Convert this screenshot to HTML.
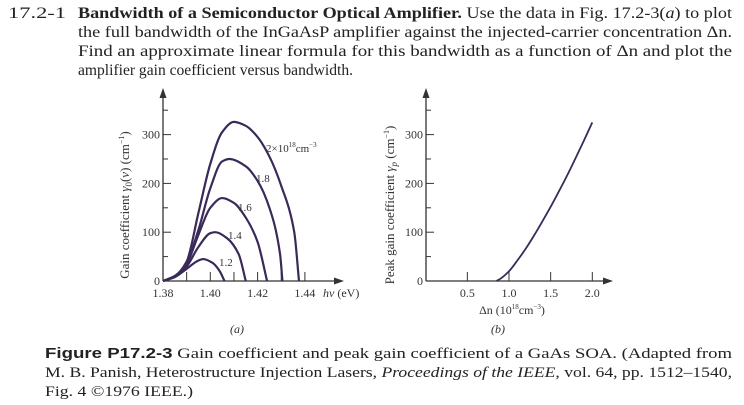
<!DOCTYPE html>
<html><head><meta charset="utf-8"><style>
html,body{margin:0;padding:0;background:#fff;}
svg{display:block;font-family:"Liberation Serif",serif;}
</style></head><body>
<svg id="s" width="744" height="405" viewBox="0 0 744 405">
<g font-size="16" fill="#222">
<text x="8" y="18" textLength="58" lengthAdjust="spacingAndGlyphs">17.2-1</text>
<text x="78" y="18" textLength="654" lengthAdjust="spacingAndGlyphs"><tspan font-weight="bold">Bandwidth of a Semiconductor Optical Amplifier.</tspan> Use the data in Fig. 17.2-3(<tspan font-style="italic">a</tspan>) to plot</text>
<text x="78" y="37" textLength="654" lengthAdjust="spacingAndGlyphs">the full bandwidth of the InGaAsP amplifier against the injected-carrier concentration Δn.</text>
<text x="78" y="56" textLength="654" lengthAdjust="spacingAndGlyphs">Find an approximate linear formula for this bandwidth as a function of Δn and plot the</text>
<text x="78" y="75" textLength="275" lengthAdjust="spacingAndGlyphs">amplifier gain coefficient versus bandwidth.</text>
</g>
<g id="ca"></g>
<g id="cb"></g>
<text x="237" y="333" font-size="12" font-style="italic" text-anchor="middle" fill="#333">(a)</text>
<text x="498" y="333" font-size="12" font-style="italic" text-anchor="middle" fill="#333">(b)</text>
<g font-size="15" fill="#222">
<text x="45" y="358" textLength="687" lengthAdjust="spacingAndGlyphs"><tspan font-family="Liberation Sans, sans-serif" font-weight="bold">Figure P17.2-3</tspan>  Gain coefficient and peak gain coefficient of a GaAs SOA. (Adapted from</text>
<text x="45" y="377" textLength="687" lengthAdjust="spacingAndGlyphs">M. B. Panish, Heterostructure Injection Lasers, <tspan font-style="italic">Proceedings of the IEEE</tspan>, vol. 64, pp. 1512–1540,</text>
<text x="45" y="396" textLength="148" lengthAdjust="spacingAndGlyphs">Fig. 4 ©1976 IEEE.)</text>
</g>
</svg>
<script>
// Chart (a) data
const aSeriesLabels = ["1.2","1.4","1.6","1.8","2"];
const aX12 = [1.38,1.385,1.39,1.395,1.397,1.401,1.404,1.406];
const aY12 = [0,8,25,42,45,37,20,0];
const aX14 = [1.38,1.385,1.39,1.395,1.40,1.402,1.407,1.412,1.415];
const aY14 = [0,9,30,70,98,100,88,55,0];
const aX16 = [1.38,1.385,1.39,1.395,1.40,1.405,1.41,1.415,1.42,1.424];
const aY16 = [0,10,35,95,150,170,160,130,80,0];
const aX18 = [1.38,1.385,1.39,1.395,1.40,1.405,1.408,1.415,1.42,1.425,1.4295,1.4305];
const aY18 = [0,10,38,105,190,245,250,235,205,150,55,0];
const aX20 = [1.38,1.385,1.39,1.395,1.40,1.405,1.41,1.415,1.42,1.425,1.43,1.4355,1.4375];
const aY20 = [0,10,40,140,240,305,326,318,295,255,195,100,0];
const aXTicks = [1.38,1.40,1.42,1.44];
const aXMinor = [1.39,1.40,1.41,1.42,1.43,1.44];
const aYTicks = [0,100,200,300];
const aYMinor = [50,150,250,350];
// Chart (b) data
const bX = [0.85,0.9,1.0,1.1,1.2,1.3,1.4,1.5,1.6,1.7,1.8,1.9,2.0];
const bY = [0,5,20,42,66,93,122,152,184,217,252,288,325];
const bXTicks = [0.5,1.0,1.5,2.0];
const bYTicks = [0,100,200,300];
const bYMinor = [50,150,250,350];

const NS="http://www.w3.org/2000/svg";
function el(p,t,a){const e=document.createElementNS(NS,t);for(const k in a)e.setAttribute(k,a[k]);p.appendChild(e);return e;}
const yS = v => 281 - v*0.488;
const axS = v => 163 + (v-1.38)/0.02*47.3;
const bxS = v => 425.7 + v*83.3;
const ink="#3a2a5a", ax="#333";

function smooth(px,py){
  const n=px.length, d=[], m=[];
  for(let i=0;i<n-1;i++) d.push((py[i+1]-py[i])/(px[i+1]-px[i]));
  m[0]=d[0]; m[n-1]=d[n-2];
  for(let i=1;i<n-1;i++){
    if(d[i-1]*d[i]<=0) m[i]=0;
    else { const h0=px[i]-px[i-1], h1=px[i+1]-px[i];
      const w1=2*h1+h0, w2=h1+2*h0;
      m[i]=(w1+w2)/(w1/d[i-1]+w2/d[i]); }
  }
  let s="M"+px[0]+","+py[0];
  for(let i=0;i<n-1;i++){
    const h=(px[i+1]-px[i])/3;
    s+=" C"+(px[i]+h)+","+(py[i]+m[i]*h)+" "+(px[i+1]-h)+","+(py[i+1]-m[i+1]*h)+" "+px[i+1]+","+py[i+1];
  }
  return s;
}
function axes(g,x0,xEnd,titleX,title){
  let e=el(g,"line",{x1:x0,y1:281,x2:xEnd,y2:281,stroke:ax,"stroke-width":1.3});
  
  
  e=el(g,"line",{x1:x0,y1:281,x2:x0,y2:96,stroke:ax,"stroke-width":1.3});
  
  
  e=el(g,"path",{d:`M${xEnd+8},281 L${xEnd-2},277.5 L${xEnd-2},284.5Z`,fill:ax});
  
  
  e=el(g,"path",{d:`M${x0},88 L${x0-3.5},98 L${x0+3.5},98Z`,fill:ax});
  
  
  e=el(g,"text",{x:titleX,y:205,"font-size":13,"text-anchor":"middle",fill:"#333",transform:`rotate(-90 ${titleX} 205)`});
  e.innerHTML=title;
  
  
}
function yTicks(g,x0,ticks,minor){
  ticks.forEach(v=>{
    let t=el(g,"line",{x1:x0,y1:yS(v),x2:x0+8,y2:yS(v),stroke:ax,"stroke-width":1});
    
    
    let l=el(g,"text",{x:x0-3,y:yS(v)+4,"font-size":12,"text-anchor":"end",fill:"#333"});
    l.textContent=v;
    
    
  });
  minor.forEach(v=>{
    let t=el(g,"line",{x1:x0,y1:yS(v),x2:x0+5,y2:yS(v),stroke:ax,"stroke-width":1});
    
    
  });
}
// Chart A
const ga=document.getElementById("ca");
axes(ga,163,336,129,"Gain coefficient <tspan font-style='italic'>γ</tspan><tspan font-size='9' dy='3'>0</tspan><tspan dy='-3'>(</tspan><tspan font-style='italic'>ν</tspan>) (cm<tspan font-size='8' dy='-5'>−1</tspan><tspan dy='5'>)</tspan>");
yTicks(ga,163,aYTicks,aYMinor);
aXMinor.forEach(v=>{
  let t=el(ga,"line",{x1:axS(v),y1:281,x2:axS(v),y2:272,stroke:ax,"stroke-width":1});
  
  
});
aXTicks.forEach(v=>{
  let l=el(ga,"text",{x:axS(v),y:297,"font-size":12,"text-anchor":"middle",fill:"#333"});
  l.textContent=v.toFixed(2);
  
  
});
let hl=el(ga,"text",{x:323,y:297,"font-size":12,fill:"#333"});
hl.innerHTML="<tspan font-style='italic'>hν</tspan> (eV)";


const aXs=[aX12,aX14,aX16,aX18,aX20], aYs=[aY12,aY14,aY16,aY18,aY20];
const lblPos=[[219,266],[228,239],[238,211],[256,182],[266,152]];
aXs.forEach((xs,i)=>{
  let p=el(ga,"path",{d:smooth(xs.map(axS),aYs[i].map(yS)),fill:"none",stroke:ink,"stroke-width":2.2});
  
  
  let l=el(ga,"text",{x:lblPos[i][0],y:lblPos[i][1],"font-size":11,fill:"#333"});
  if(i===4) l.innerHTML="2×10<tspan font-size='7' dy='-5'>18</tspan><tspan dy='5'>cm</tspan><tspan font-size='7' dy='-5'>−3</tspan>";
  else l.textContent=aSeriesLabels[i];
  
  
});
// Chart B
const gb=document.getElementById("cb");
axes(gb,426,605,394,"Peak gain coefficient <tspan font-style='italic'>γ</tspan><tspan font-size='9' dy='3' font-style='italic'>p</tspan><tspan dy='-3'> (cm</tspan><tspan font-size='8' dy='-5'>−1</tspan><tspan dy='5'>)</tspan>");
yTicks(gb,426,bYTicks,bYMinor);
bXTicks.forEach(v=>{
  let t=el(gb,"line",{x1:bxS(v),y1:281,x2:bxS(v),y2:272,stroke:ax,"stroke-width":1});
  
  
  let l=el(gb,"text",{x:bxS(v),y:297,"font-size":12,"text-anchor":"middle",fill:"#333"});
  l.textContent=v.toFixed(1);
  
  
});
let bl=el(gb,"text",{x:512,y:314,"font-size":12,"text-anchor":"middle",fill:"#333"});
bl.innerHTML="Δn (10<tspan font-size='7' dy='-5'>18</tspan><tspan dy='5'>cm</tspan><tspan font-size='7' dy='-5'>−3</tspan><tspan dy='5'>)</tspan>";


let bp=el(gb,"path",{d:smooth(bX.map(bxS),bY.map(yS)),fill:"none",stroke:ink,"stroke-width":1.8});


</script>
</body></html>
